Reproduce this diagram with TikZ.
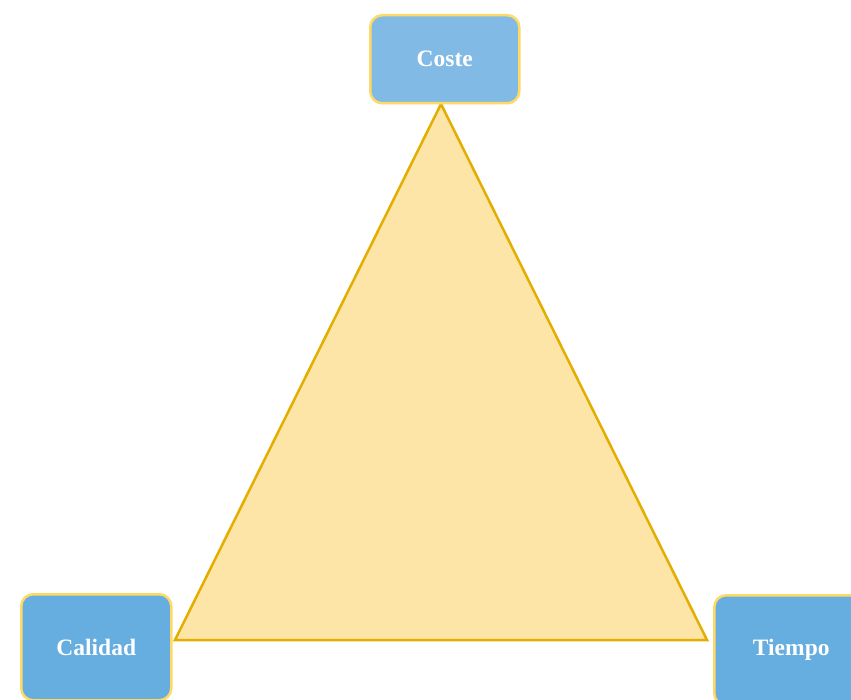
\documentclass[tikz,border=0pt]{standalone}
\usepackage{fontspec}
\setmainfont{Liberation Serif}
\definecolor{boxA}{HTML}{82BAE6}
\definecolor{boxB}{HTML}{66ADE0}
\definecolor{boxline}{HTML}{FFD966}
\definecolor{trifill}{HTML}{FDE5A7}
\definecolor{triline}{HTML}{E3AE00}
\begin{document}
\begin{tikzpicture}[x=1pt,y=-1pt,
  vbox/.style={draw=boxline,line width=2.5pt,rounded corners=12pt,text=white,font=\bfseries\fontsize{23.5}{28}\selectfont,inner sep=0pt,anchor=north west}]
\clip (0,0) rectangle (851,700);
\fill[white] (0,0) rectangle (851,700);
\coordinate (apex) at (441,104);
\coordinate (bl) at (175,640);
\coordinate (br) at (707,640);
\draw[fill=trifill,draw=triline,line width=2.5pt,line join=miter] (apex) -- (bl) -- (br) -- cycle;
\node[vbox,fill=boxA,minimum width=149pt,minimum height=88pt] (coste) at (369,14) {Coste};
\node[vbox,fill=boxB,minimum width=150pt,minimum height=106pt] (calidad) at (20,593) {Calidad};
\node[vbox,fill=boxB,minimum width=154pt,minimum height=110pt] (tiempo) at (713,594) {Tiempo};
\end{tikzpicture}
\end{document}
